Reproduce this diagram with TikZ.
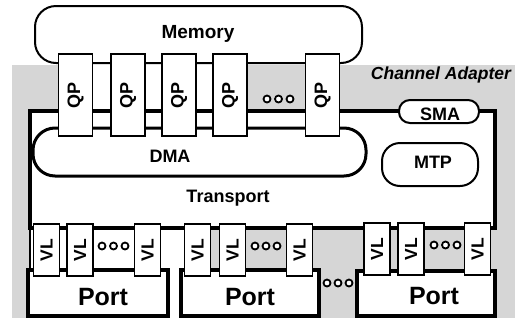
\documentclass[tikz,border=0pt]{standalone}
\usepackage{fontspec}
\setmainfont{Liberation Sans}
\begin{document}
\begin{tikzpicture}[x=1pt,y=-1pt,
  lbl/.style={font=\fontsize{18}{21}\selectfont\bfseries, inner sep=0pt},
  portlbl/.style={font=\fontsize{25}{28}\selectfont\bfseries, inner sep=0pt, anchor=base},
  qpbox/.style={draw, fill=white, line width=1.3, rotate=90, minimum width=82, minimum height=34, inner sep=0pt, font=\fontsize{18}{21}\selectfont\bfseries},
  vlbox/.style={draw, fill=white, line width=1.3, rotate=90, minimum width=52, minimum height=26, inner sep=0pt, font=\fontsize{17.5}{20}\selectfont\bfseries},
  dotc/.style={circle, draw, fill=white, line width=1.8, inner sep=0pt, minimum size=7},
  portbox/.style={draw, fill=white, line width=4},
  stipple/.style={fill=black!16, draw=none}
]
\useasboundingbox (0,0) rectangle (517,322);

% channel adapter background
\path[stipple] (12,65) rectangle (515,318);
\path[fill=white] (58,63) rectangle (247,112);
\path[fill=white] (30,228) rectangle (187,270);
\path[fill=white] (166,228) rectangle (183,318);

% memory
\draw[line width=2, fill=white, rounded corners=21] (35,6) rectangle (362,63);
\node[lbl, anchor=base, font=\fontsize{19}{22}\selectfont\bfseries] (mem) at (198,38) {Memory};

% transport
\draw[line width=4, fill=white] (30,111) rectangle (495,228);
\draw[line width=2] (30,228) -- (30,270);
\node[lbl, anchor=base] (tr) at (228,202) {Transport};

% DMA
\draw[line width=3, fill=white, rounded corners=22] (33,128) rectangle (366,176);
\node[lbl, anchor=base] (dma) at (170,162) {DMA};

% MTP
\draw[line width=2, fill=white, rounded corners=18] (382,143) rectangle (478,186);
\node[lbl, anchor=base] (mtp) at (433,168) {MTP};

% SMA
\draw[line width=2, fill=white, rounded corners=11] (399,100) rectangle (479,123);
\node[lbl, anchor=base] (sma) at (440,120) {SMA};

% channel adapter label
\node[lbl, anchor=base, font=\fontsize{17.5}{20}\selectfont\bfseries\itshape] (ca) at (441,79) {Channel Adapter};

% QPs
\node[qpbox] (qp1) at (75.5,95) {QP};
\node[qpbox] (qp2) at (128,95) {QP};
\node[qpbox] (qp3) at (179,95) {QP};
\node[qpbox] (qp4) at (230,95) {QP};
\node[qpbox] (qp5) at (322.5,95) {QP};
\node[dotc] (qo1) at (267,99) {};
\node[dotc] (qo2) at (278.5,99) {};
\node[dotc] (qo3) at (290,99) {};

% ports
\draw[portbox] (28,270) rectangle (168,316);
\draw[portbox] (181,270) rectangle (319,316);
\draw[portbox] (357,271) rectangle (495,316);
\node[portlbl] (p1) at (103,305) {Port};
\node[portlbl] (p2) at (250,305) {Port};
\node[portlbl] (p3) at (434,304) {Port};

% VLs
\node[vlbox] (v11) at (46.5,250) {VL};
\node[vlbox] (v12) at (80,250) {VL};
\node[vlbox] (v13) at (147.5,250) {VL};
\node[vlbox] (v21) at (197.5,250) {VL};
\node[vlbox] (v22) at (232.5,250) {VL};
\node[vlbox] (v23) at (299.5,250) {VL};
\node[vlbox] (v31) at (377,249) {VL};
\node[vlbox] (v32) at (411,249) {VL};
\node[vlbox] (v33) at (477.5,249) {VL};

\node[dotc] (a1) at (102,246) {};
\node[dotc] (a2) at (113.5,246) {};
\node[dotc] (a3) at (125,246) {};
\node[dotc] (b1) at (255,246) {};
\node[dotc] (b2) at (266,246) {};
\node[dotc] (b3) at (277,246) {};
\node[dotc] (c1) at (434,245) {};
\node[dotc] (c2) at (445.5,245) {};
\node[dotc] (c3) at (457,245) {};
\node[dotc] (d1) at (327,283) {};
\node[dotc] (d2) at (338,283) {};
\node[dotc] (d3) at (349,283) {};
\end{tikzpicture}
\end{document}
